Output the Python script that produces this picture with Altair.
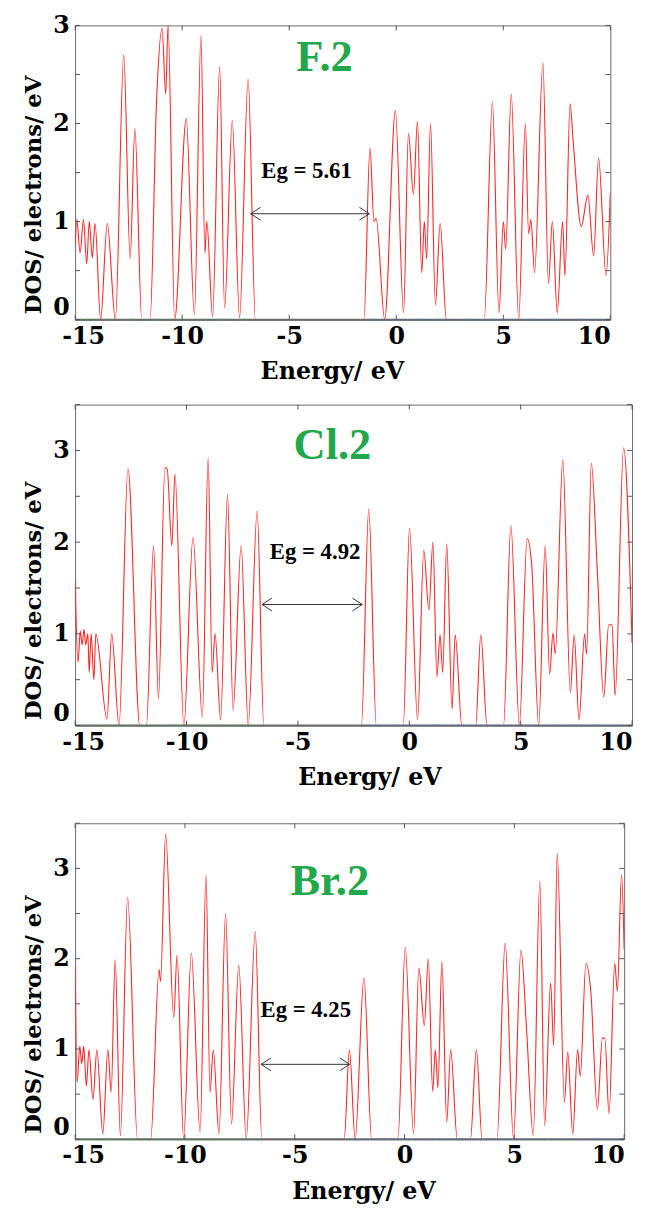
import altair as alt
import pandas as pd

FONT = "DejaVu Serif"
TFONT = "Liberation Serif"

# ---------------- data ----------------
F_E = [-15.0, -14.92, -14.77, -14.61, -14.46, -14.34, -14.20, -14.07, -13.81, -13.50,
       -13.12, -12.73, -12.43, -12.21, -11.89, -11.50, -11.20, -10.94, -10.77, -10.66,
       -10.35, -9.81, -9.43, -9.12, -8.94, -8.85, -8.58, -8.25, -8.02, -7.66,
       -7.32, -6.92, -6.58, -1.51, -1.23, -1.04, -0.94, -0.54, -0.04, 0.34,
       0.57, 0.80, 0.99, 1.19, 1.31, 1.42, 1.60, 1.83, 2.05, 2.34,
       4.11, 4.49, 4.80, 5.00, 5.11, 5.37, 5.72, 6.03, 6.18, 6.29,
       6.46, 6.85, 7.11, 7.29, 7.52, 7.77, 7.88, 8.12, 8.26, 8.64,
       8.95, 9.22, 9.45, 9.80, 10.0]
F_DOS = [0.75, 1.02, 0.68, 1.02, 0.57, 1.00, 0.63, 0.98, 0.00, 0.98,
         0.00, 2.70, 0.62, 1.95, 0.00, 0.00, 2.22, 2.97, 2.30, 3.00,
         0.00, 2.05, 0.05, 2.90, 0.68, 1.00, 0.03, 2.58, 0.12, 2.03,
         0.02, 2.45, 0.00, 0.00, 1.75, 1.00, 1.03, 0.00, 2.13, 0.07,
         1.90, 1.28, 2.02, 0.48, 1.00, 0.62, 2.00, 0.15, 0.98, 0.00,
         0.00, 2.22, 0.07, 1.00, 0.72, 2.30, 0.00, 2.00, 0.88, 1.02,
         0.48, 2.62, 0.37, 1.00, 0.07, 1.00, 0.45, 2.20, 1.83, 0.95,
         1.27, 0.65, 1.65, 0.45, 1.30]

CL_E = [-15.0, -14.87, -14.77, -14.69, -14.60, -14.53, -14.43, -14.37, -14.28, -14.16,
        -14.07, -13.57, -13.36, -13.03, -12.63, -12.10, -11.80, -11.48, -11.26, -10.97,
        -10.87, -10.66, -10.52, -10.12, -9.71, -9.29, -9.03, -8.85, -8.72, -8.47,
        -8.16, -7.91, -7.55, -7.23, -6.83, -6.53, -2.15, -1.82, -1.48, -0.27,
        0.01, 0.37, 0.65, 0.88, 1.06, 1.24, 1.38, 1.50, 1.68, 1.92,
        2.06, 2.36, 2.98, 3.21, 3.49, 4.23, 4.56, 4.94, 5.29, 5.49,
        5.81, 6.10, 6.30, 6.45, 6.55, 6.89, 7.23, 7.40, 7.62, 7.87,
        7.96, 8.17, 8.44, 8.73, 8.95, 9.10, 9.24, 9.62, 10.0]
CL_DOS = [1.57, 0.69, 1.03, 0.88, 1.05, 0.88, 1.00, 0.58, 1.00, 0.50,
          1.00, 0.07, 1.00, 0.00, 2.80, 0.00, 0.00, 1.96, 0.29, 2.81,
          2.80, 1.96, 2.74, 0.00, 2.05, 0.09, 2.92, 0.58, 1.00, 0.06,
          2.52, 0.17, 1.96, 0.00, 2.34, 0.00, 0.00, 2.36, 0.00, 0.00,
          2.15, 0.06, 1.91, 1.26, 2.00, 0.53, 0.99, 0.58, 1.98, 0.18,
          0.99, 0.00, 0.00, 0.99, 0.00, 0.00, 2.18, 0.00, 2.04, 1.77,
          0.00, 1.96, 0.56, 1.01, 0.78, 2.90, 0.36, 0.99, 0.06, 1.00,
          0.78, 2.86, 1.69, 0.31, 1.10, 1.10, 0.33, 3.03, 0.90]

BR_E = [-15.0, -14.91, -14.79, -14.70, -14.61, -14.49, -14.37, -14.19, -14.01, -13.74,
        -13.51, -13.36, -13.18, -12.94, -12.61, -12.16, -11.56, -11.18, -11.11, -10.88,
        -10.51, -10.36, -10.06, -9.71, -9.31, -9.04, -8.86, -8.71, -8.45, -8.15,
        -7.88, -7.55, -7.21, -6.80, -6.50, -2.75, -2.51, -2.25, -1.85, -1.50,
        -0.30, 0.03, 0.41, 0.65, 0.90, 1.08, 1.28, 1.40, 1.52, 1.70,
        1.92, 2.10, 2.40, 3.00, 3.27, 3.53, 4.21, 4.58, 4.96, 5.30,
        5.56, 5.86, 6.16, 6.38, 6.65, 6.79, 6.95, 7.28, 7.43, 7.66,
        7.88, 8.00, 8.26, 8.48, 8.78, 9.01, 9.12, 9.31, 9.57, 9.69,
        9.88, 10.0]
BR_DOS = [1.93, 0.63, 1.03, 0.84, 1.03, 0.59, 0.99, 0.44, 0.99, 0.06,
          0.99, 0.52, 1.99, 0.04, 2.68, 0.00, 0.00, 1.88, 1.75, 3.38,
          1.35, 2.04, 0.00, 2.06, 0.08, 2.93, 0.52, 0.99, 0.06, 2.50,
          0.17, 1.93, 0.00, 2.30, 0.00, 0.00, 0.99, 0.00, 1.79, 0.00,
          0.00, 2.13, 0.06, 1.90, 1.26, 2.00, 0.53, 0.99, 0.57, 1.97,
          0.19, 0.99, 0.00, 0.00, 0.99, 0.00, 0.00, 2.17, 0.00, 2.10,
          1.20, 0.04, 2.86, 0.15, 1.73, 1.04, 3.17, 0.41, 0.97, 0.06,
          0.99, 0.70, 1.95, 1.64, 0.33, 1.12, 1.12, 0.28, 1.95, 1.64,
          2.93, 2.10]

NAMES = ["F.2", "Cl.2", "Br.2"]
EG_LABELS = ["Eg = 5.61", "Eg = 4.92", "Eg = 4.25"]
VBM = [-6.80, -6.61, -6.53]          # left end of gap arrow
CBM = [-1.26, -2.11, -2.50]          # right end of gap arrow
ARROW_Y = [1.08, 1.32, 0.83]
EG_TEXT_X = [-4.19, -4.23, -4.50]
EG_TEXT_Y = [1.52, 1.89, 1.43]
NAME_X = [-3.35, -3.45, -3.40]
NAME_Y = [2.68, 3.06, 2.86]
Y_MAX = [3.0, 3.5, 3.5]

X_TICKS = [-15, -10, -5, 0, 5, 10]
Y_LABELS = [0, 1, 2, 3]
Y_MINOR = [0, 0.5, 1, 1.5, 2, 2.5, 3, 3.5]
ENERGY_RANGE = [-15, 10]

WIDTHS = [542, 564, 556]
HEIGHTS = [298, 325, 320]
XTITLE_X = [260, 298, 292]

SERIES = [(F_E, F_DOS), (CL_E, CL_DOS), (BR_E, BR_DOS)]

LEFT_ARROW = "M1,-0.65L0,0L1,0.65"
RIGHT_ARROW = "M-1,-0.65L0,0L-1,0.65"
FRAME = "#6a6a6a"


def make_panel(i):
    E, D = SERIES[i]
    w, h = WIDTHS[i], HEIGHTS[i]
    ymax = Y_MAX[i]
    xs = alt.Scale(domain=ENERGY_RANGE, nice=False, zero=False)
    ys = alt.Scale(domain=[0, ymax], nice=False, zero=False)

    x_axis = alt.Axis(
        title="Energy/ eV", values=X_TICKS, ticks=False, domain=False, grid=False,
        labelExpr="datum.value < 0 ? '-' + abs(datum.value) : '' + datum.value",
        labelFont=FONT, labelFontSize=24, labelFontWeight="bold", labelColor="black",
        labelPadding=5,
        labelAlign={"condition": {"test": "datum.value == 10", "value": "right"}, "value": "center"},
        labelOffset={"condition": {"test": "datum.value == -15", "value": 8}, "value": 0},
        titleFont=FONT, titleFontSize=24, titleFontWeight="bold", titleColor="black",
        titlePadding=12, titleX=XTITLE_X[i],
    )
    y_axis = alt.Axis(
        title="DOS/ electrons/ eV", values=Y_LABELS, ticks=False, domain=False, grid=False,
        labelFont=FONT, labelFontSize=24, labelFontWeight="bold", labelColor="black",
        labelPadding=6,
        labelBaseline={"condition": {"test": "datum.value == 0", "value": "bottom"}, "value": "middle"},
        titleFont=FONT, titleFontSize=23, titleFontWeight="bold", titleColor="black",
        titlePadding=7, titleY=h - 6, titleAlign="left",
    )

    df = pd.DataFrame({"E": E, "DOS": D})
    line = alt.Chart(df).mark_line(
        color="#ff2424", strokeWidth=1.1, interpolate="monotone", clip=True
    ).encode(
        x=alt.X("E:Q", scale=xs, axis=x_axis),
        y=alt.Y("DOS:Q", scale=ys, axis=y_axis),
    )

    # bottom frame edge drawn over the curve where it sits at zero
    zero = pd.DataFrame({"E": ENERGY_RANGE, "DOS": [0, 0]})
    floor = alt.Chart(zero).mark_line(color=FRAME, strokeWidth=2).encode(
        x=alt.X("E:Q", scale=xs, axis=x_axis),
        y=alt.Y("DOS:Q", scale=ys, axis=y_axis),
    )

    # faint dotted partial-DOS traces lying on the baseline
    base = pd.DataFrame({
        "E": [ENERGY_RANGE[0], VBM[i], CBM[i], ENERGY_RANGE[1]],
        "DOS": [0.0, 0.0, 0.0, 0.0],
        "band": ["v", "v", "c", "c"],
    })
    baseline = alt.Chart(base).mark_line(strokeWidth=2, strokeDash=[1, 5], opacity=0.9).encode(
        x=alt.X("E:Q", scale=xs, axis=x_axis),
        y=alt.Y("DOS:Q", scale=ys, axis=y_axis),
        color=alt.Color("band:N", scale=alt.Scale(domain=["v", "c"], range=["#3cb043", "#3a7fd0"]), legend=None),
        detail="band:N",
    )

    xt = pd.DataFrame({"t": X_TICKS})
    yt = pd.DataFrame({"t": [v for v in Y_MINOR if v <= ymax]})
    tick_color = "#555555"
    xb = alt.Chart(xt).mark_rule(color=tick_color, strokeWidth=1).encode(
        x=alt.X("t:Q", scale=xs, axis=x_axis), y=alt.value(h), y2=alt.value(h - 5))
    xtop = alt.Chart(xt).mark_rule(color=tick_color, strokeWidth=1).encode(
        x=alt.X("t:Q", scale=xs, axis=x_axis), y=alt.value(0), y2=alt.value(5))
    yl = alt.Chart(yt).mark_rule(color=tick_color, strokeWidth=1).encode(
        y=alt.Y("t:Q", scale=ys, axis=y_axis), x=alt.value(0), x2=alt.value(5))
    yr = alt.Chart(yt).mark_rule(color=tick_color, strokeWidth=1).encode(
        y=alt.Y("t:Q", scale=ys, axis=y_axis), x=alt.value(w), x2=alt.value(w - 5))

    arr = pd.DataFrame({"x1": [VBM[i]], "x2": [CBM[i]], "y": [ARROW_Y[i]]})
    shaft = alt.Chart(arr).mark_rule(color="#333333", strokeWidth=1).encode(
        x=alt.X("x1:Q", scale=xs, axis=x_axis), x2="x2:Q",
        y=alt.Y("y:Q", scale=ys, axis=y_axis))
    head_l = alt.Chart(arr).mark_point(shape=LEFT_ARROW, size=400, filled=False,
                                       color="#333333", strokeWidth=1, opacity=1).encode(
        x=alt.X("x1:Q", scale=xs, axis=x_axis), y=alt.Y("y:Q", scale=ys, axis=y_axis))
    head_r = alt.Chart(arr).mark_point(shape=RIGHT_ARROW, size=400, filled=False,
                                       color="#333333", strokeWidth=1, opacity=1).encode(
        x=alt.X("x2:Q", scale=xs, axis=x_axis), y=alt.Y("y:Q", scale=ys, axis=y_axis))

    eg = pd.DataFrame({"x": [EG_TEXT_X[i]], "y": [EG_TEXT_Y[i]], "label": [EG_LABELS[i]]})
    eg_text = alt.Chart(eg).mark_text(font=TFONT, fontWeight="bold", fontSize=23, color="black").encode(
        x=alt.X("x:Q", scale=xs, axis=x_axis), y=alt.Y("y:Q", scale=ys, axis=y_axis), text="label:N")

    nm = pd.DataFrame({"x": [NAME_X[i]], "y": [NAME_Y[i]], "label": [NAMES[i]]})
    name_text = alt.Chart(nm).mark_text(font=TFONT, fontWeight="bold", fontSize=45, color="#22a84b").encode(
        x=alt.X("x:Q", scale=xs, axis=x_axis), y=alt.Y("y:Q", scale=ys, axis=y_axis), text="label:N")

    return alt.layer(line, floor, baseline, xb, xtop, yl, yr, shaft, head_l, head_r,
                     eg_text, name_text).properties(width=w, height=h)


lower = alt.vconcat(make_panel(1), make_panel(2), spacing=32)
chart = alt.vconcat(make_panel(0), lower, spacing=19).properties(
    padding={"left": 14, "top": -3, "right": 0, "bottom": 0},
    background="white",
).configure_view(stroke=FRAME, strokeWidth=1)

chart.save("out.html", embed_options={"renderer": "svg", "actions": False})
